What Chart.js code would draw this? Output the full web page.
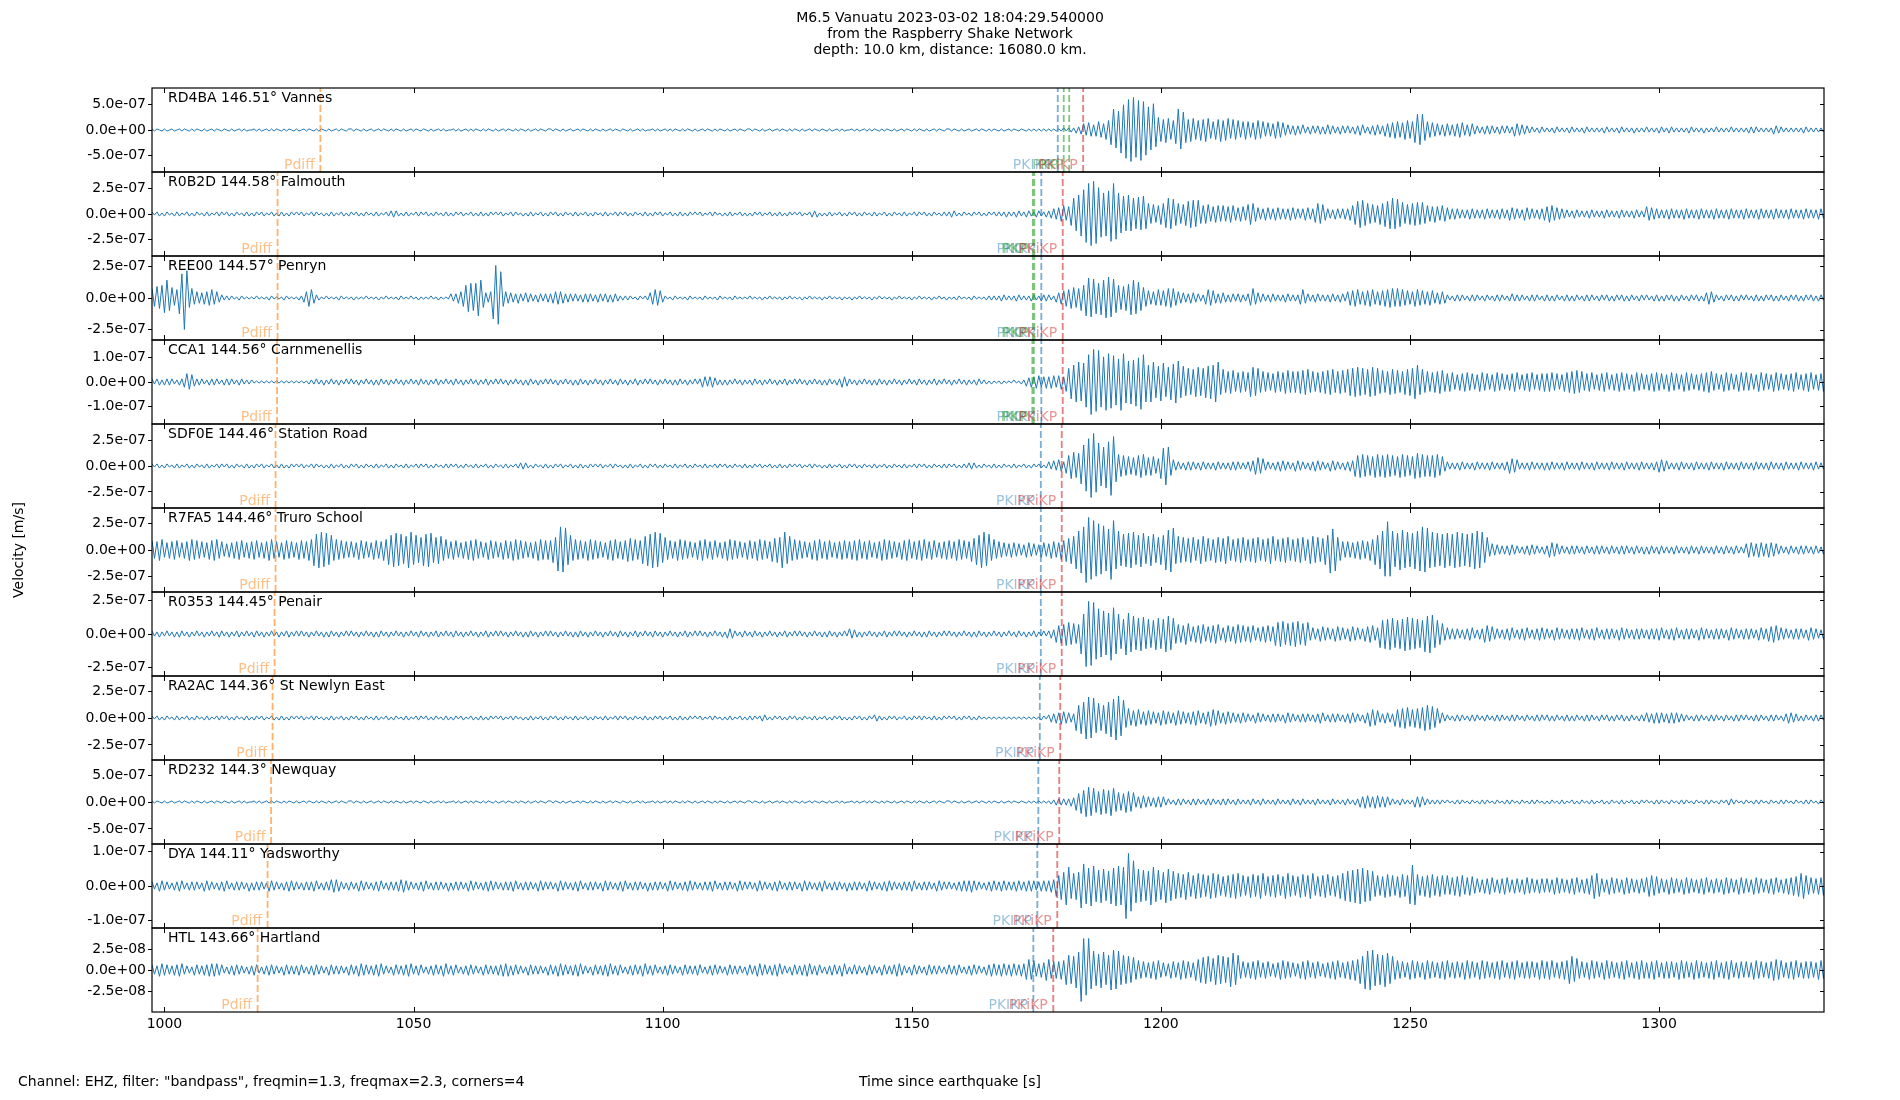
<!DOCTYPE html>
<html><head><meta charset="utf-8">
<script src="https://cdn.jsdelivr.net/npm/chart.js@4.4.0/dist/chart.umd.min.js"></script>
<style>html,body{margin:0;padding:0;background:#fff;}canvas{display:block;}</style>
</head><body>
<canvas id="c" width="1900" height="1100" style="width:1900px;height:1100px"></canvas>
<script>
const titleLines = ['M6.5 Vanuatu 2023-03-02 18:04:29.540000', 'from the Raspberry Shake Network', 'depth: 10.0 km, distance: 16080.0 km.'];
const yAxisTitle = 'Velocity [m/s]';
const xAxisTitle = 'Time since earthquake [s]';
const footnote = 'Channel: EHZ, filter: "bandpass", freqmin=1.3, freqmax=2.3, corners=4';
const stationLabels = ['RD4BA 146.51° Vannes','R0B2D 144.58° Falmouth','REE00 144.57° Penryn','CCA1 144.56° Carnmenellis','SDF0E 144.46° Station Road','R7FA5 144.46° Truro School','R0353 144.45° Penair','RA2AC 144.36° St Newlyn East','RD232 144.3° Newquay','DYA 144.11° Yadsworthy','HTL 143.66° Hartland'];
const xRange = [997.5, 1333.1];
const xTickValues = [1000, 1050, 1100, 1150, 1200, 1250, 1300];
const yLimits = [8.2e-7, 4.15e-7, 3.3e-7, 1.72e-7, 4.04e-7, 4.0e-7, 3.12e-7, 3.9e-7, 7.8e-7, 1.22e-7, 5.0e-8];
const yTickValues = [[-5e-7,0,5e-7],[-2.5e-7,0,2.5e-7],[-2.5e-7,0,2.5e-7],[-1e-7,0,1e-7],[-2.5e-7,0,2.5e-7],[-2.5e-7,0,2.5e-7],[-2.5e-7,0,2.5e-7],[-2.5e-7,0,2.5e-7],[-5e-7,0,5e-7],[-1e-7,0,1e-7],[-2.5e-8,0,2.5e-8]];
const startTime = 997.5;
const sampleStep = 0.5;
const countUnits = [2.05e-8, 1.04e-8, 8.25e-9, 4.3e-9, 1.01e-8, 1.0e-8, 7.8e-9, 9.75e-9, 1.95e-8, 3.05e-9, 1.25e-9];

const trace0 = [
1,-1,1,0,-1,1,-1,0,1,-1,0,1,-1,1,0,-1,1,-1,1,0,-1,1,-1,0,1,-1,1,0,-1,1,0,-1,1,-1,0,1,-1,1,-1,0,
0,1,-1,1,-1,0,1,-1,1,-1,1,0,-1,1,-1,1,0,-1,1,-1,0,1,-1,1,0,-1,1,-1,1,0,-1,1,-1,0,1,-1,1,0,-1,1,
1,-1,1,0,-1,1,-1,0,1,-1,0,1,-1,1,0,-1,1,-1,1,0,-1,1,-1,0,1,-1,1,0,-1,1,0,-1,1,-1,0,1,-1,1,-1,0,
0,1,-1,1,-1,0,1,-1,1,-1,1,0,-1,1,-1,1,0,-1,1,-1,0,1,-1,1,0,-1,1,-1,1,0,-1,1,-1,0,1,-1,1,0,-1,1,
1,-1,1,0,-1,1,-1,0,1,-1,0,1,-1,1,0,-1,1,-1,1,0,-1,1,-1,0,1,-1,1,0,-1,1,0,-1,1,-1,0,1,-1,1,-1,0,
0,1,-1,1,-1,0,1,-1,1,-1,1,0,-1,1,-1,1,0,-1,1,-1,0,1,-1,1,0,-1,1,-1,1,0,-1,1,-1,0,1,-1,1,0,-1,1,
1,-1,1,0,-1,1,-1,0,1,-1,0,1,-1,1,0,-1,1,-1,1,0,-1,1,-1,0,1,-1,1,0,-1,1,0,-1,1,-1,0,1,-1,1,-1,0,
0,1,-1,1,-1,0,1,-1,1,-1,1,0,-1,1,-1,1,0,-1,1,-1,0,1,-1,1,0,-1,1,-1,1,0,-1,1,-1,0,1,-1,1,0,-1,1,
1,-1,1,0,-1,1,-1,0,1,-1,0,1,-1,1,0,-1,1,-1,1,0,-1,1,-1,0,1,-1,1,0,-1,1,0,-1,1,-1,1,-1,1,-1,1,-1,
1,-1,1,-1,1,-1,2,-1,2,-2,2,-3,3,-4,6,-5,7,-6,5,-6,8,-7,6,-9,9,-14,20,-17,18,-22,24,-27,29,-30,31,-26,28,-29,27,-24,
22,-19,25,-16,12,-11,10,-12,11,-9,9,-13,20,-18,17,-12,10,-11,11,-9,9,-10,10,-11,11,-8,8,-9,10,-11,9,-10,11,-8,10,-9,9,-7,8,-9,
8,-7,7,-9,9,-8,8,-6,7,-6,6,-8,8,-7,7,-5,5,-4,4,-5,4,-4,5,-3,3,-4,4,-3,4,-4,3,-4,5,-4,4,-3,3,-4,4,-3,
4,-3,3,-4,4,-5,5,-3,3,-4,4,-5,5,-4,4,-6,6,-7,7,-8,8,-7,7,-9,9,-8,8,-12,15,-14,15,-10,8,-7,7,-6,6,-5,5,-6,
6,-5,5,-6,6,-7,7,-5,5,-6,6,-4,4,-3,3,-4,4,-4,4,-3,3,-4,4,-3,4,-3,3,-6,6,-5,5,-4,4,-3,3,-2,2,-3,3,-2,
2,-2,2,-3,3,-2,2,-2,2,-3,3,-2,2,-2,2,-3,3,-2,2,-2,2,-2,2,-3,3,-2,2,-2,2,-3,3,-2,2,-2,2,-3,2,-2,2,-2,
3,-2,2,-2,2,-3,3,-2,2,-3,3,-2,2,-2,2,-2,2,-3,3,-2,2,-2,2,-3,2,-2,2,-2,3,-2,2,-2,2,-2,3,-2,2,-2,2,-2,
2,-3,3,-3,3,-2,2,-2,2,-2,2,-4,4,-3,3,-2,2,-2,2,-2,2,-2,2,-3,3,-2,2,-2,2,-2,2,-2,2,-2];

const trace1 = [
2,-1,2,-2,1,-2,2,-1,1,-2,2,-2,1,-1,2,-2,1,-2,2,-1,1,-2,2,-2,1,-1,2,-2,2,-1,2,-2,1,-2,2,-1,1,-2,2,-2,
1,-2,2,-1,2,-2,1,-1,2,-2,1,-2,2,-2,1,-2,2,-1,2,-1,2,-2,1,-1,2,-2,2,-1,1,-2,1,-2,2,-2,1,-1,2,-2,1,-2,
2,-1,2,-2,1,-2,2,-1,1,-2,2,-2,1,-1,2,-2,3,-3,3,-2,1,-2,2,-2,1,-1,2,-2,2,-1,2,-2,1,-2,2,-1,1,-2,2,-2,
1,-2,2,-1,2,-2,1,-1,2,-2,1,-2,2,-2,1,-2,2,-1,2,-1,2,-2,1,-1,2,-2,2,-1,1,-2,1,-2,2,-2,1,-1,2,-2,1,-2,
2,-1,2,-2,1,-2,2,-1,1,-2,2,-2,1,-1,2,-2,1,-2,2,-1,1,-2,2,-2,1,-1,2,-2,2,-1,2,-2,1,-2,2,-1,1,-2,2,-2,
1,-2,2,-1,2,-2,1,-1,2,-2,1,-2,2,-2,1,-2,2,-1,2,-1,2,-2,1,-1,2,-2,2,-1,1,-2,1,-2,2,-2,1,-1,2,-2,1,-2,
1,-2,2,-1,2,-2,1,-1,2,-2,1,-2,2,-2,1,-2,2,-1,2,-1,2,-2,1,-1,2,-3,3,-3,1,-2,1,-2,2,-2,1,-1,2,-2,1,-2,
2,-1,2,-2,1,-2,2,-1,1,-2,2,-2,1,-1,2,-2,1,-2,2,-1,1,-2,2,-2,1,-1,2,-2,2,-1,2,-2,1,-2,2,-1,1,-2,2,-2,
2,-3,3,-2,1,-2,2,-1,1,-2,2,-1,2,-2,1,-2,2,-1,2,-2,2,-2,2,-3,2,-2,2,-3,3,-2,2,-3,3,-2,2,-3,3,-2,2,-3,
3,-4,5,-5,6,-7,8,-6,7,-11,15,-16,18,-21,23,-27,29,-30,31,-28,25,-22,20,-21,22,-26,29,-24,20,-18,17,-16,18,-16,15,-14,16,-15,17,-14,
10,-9,9,-8,8,-10,10,-13,15,-14,14,-11,10,-9,9,-11,12,-13,13,-12,13,-9,8,-9,9,-7,7,-8,8,-7,8,-7,7,-8,8,-6,6,-7,7,-6,
9,-10,10,-7,6,-5,5,-6,6,-5,5,-6,6,-5,5,-5,5,-6,6,-5,5,-4,5,-6,6,-5,5,-8,10,-9,9,-6,5,-4,4,-5,5,-4,5,-5,
5,-6,8,-10,12,-13,13,-11,10,-9,9,-8,8,-10,10,-12,12,-14,15,-14,14,-12,11,-9,9,-10,10,-11,11,-10,11,-9,8,-7,7,-8,7,-6,8,-7,
6,-5,5,-5,5,-4,4,-4,4,-5,5,-4,4,-4,4,-5,5,-4,4,-4,4,-5,5,-4,4,-6,6,-5,5,-4,4,-6,6,-5,5,-4,4,-5,5,-6,
7,-8,8,-6,6,-5,5,-4,4,-3,3,-4,4,-3,3,-3,3,-4,4,-3,3,-3,3,-4,4,-3,3,-3,3,-4,4,-3,3,-3,3,-4,4,-3,3,-3,
7,-6,6,-5,5,-4,4,-4,4,-5,5,-4,4,-4,4,-5,5,-4,4,-4,4,-5,5,-4,4,-4,4,-5,5,-4,4,-4,4,-5,5,-4,4,-4,4,-5,
5,-4,4,-4,4,-5,5,-4,4,-4,4,-5,5,-4,4,-4,4,-5,5,-4,4,-4,4,-5,5,-4,4,-4,4,-5,5,-4,4,-4];

const trace2 = [
9,-8,11,-10,12,-14,17,-12,10,-7,8,-15,23,-30,26,-9,9,-6,6,-5,5,-6,6,-7,8,-6,6,-4,3,-2,2,-2,2,-1,1,-2,2,-1,1,-1,
1,-1,2,-1,1,-1,1,-2,2,-1,1,-1,1,-2,2,-1,1,-1,1,-2,2,-4,6,-8,8,-5,3,-2,1,-1,2,-1,1,-1,1,-2,2,-1,1,-1,
1,-2,1,-1,1,-1,2,-1,1,-1,1,-2,1,-1,2,-1,1,-1,1,-2,2,-1,1,-1,2,-1,1,-2,1,-1,1,-1,2,-1,1,-2,1,-1,1,-1,
4,-3,4,-5,6,-8,12,-13,14,-12,14,-17,17,-9,5,-4,6,-20,31,-25,25,-8,6,-5,5,-4,4,-5,4,-3,5,-4,4,-3,3,-4,4,-3,4,-4,
4,-5,6,-6,6,-5,4,-4,4,-3,4,-3,3,-4,4,-4,4,-3,3,-4,4,-3,4,-4,3,-4,4,-3,2,-2,2,-2,2,-1,1,-2,2,-1,2,-2,
5,-6,8,-7,7,-4,2,-1,1,-2,2,-1,1,-1,1,-2,2,-1,1,-1,1,-2,2,-1,1,-1,1,-2,2,-1,1,-1,1,-2,2,-1,1,-1,1,-1,
2,-1,1,-1,1,-2,1,-1,2,-1,1,-1,1,-2,1,-1,2,-1,1,-1,1,-2,1,-1,2,-1,1,-1,1,-2,1,-1,2,-1,1,-1,1,-2,1,-1,
1,-2,1,-1,2,-1,1,-1,1,-2,1,-1,2,-1,1,-1,1,-2,1,-1,2,-1,1,-1,1,-2,1,-1,2,-1,1,-1,1,-2,1,-1,2,-1,1,-2,
1,-1,1,-2,2,-1,1,-1,1,-2,2,-1,1,-1,1,-2,2,-2,2,-2,2,-3,3,-2,2,-2,2,-3,3,-2,2,-2,2,-3,3,-2,2,-3,3,-3,
3,-2,2,-4,5,-6,7,-8,8,-10,10,-9,9,-12,12,-17,19,-18,18,-15,14,-16,17,-19,20,-18,18,-14,12,-11,11,-12,13,-16,17,-15,15,-12,10,-8,
7,-6,6,-7,8,-7,7,-8,9,-9,9,-7,6,-5,5,-4,4,-5,5,-4,4,-3,3,-6,8,-7,7,-5,4,-5,5,-4,3,-4,4,-3,4,-4,3,-3,
4,-7,9,-6,5,-4,4,-3,3,-4,4,-3,3,-3,3,-4,4,-3,3,-3,3,-6,8,-5,4,-3,3,-4,4,-3,3,-3,3,-4,4,-3,3,-4,4,-3,
6,-7,7,-8,8,-6,6,-7,7,-8,8,-6,6,-7,7,-8,8,-9,9,-8,9,-8,8,-7,7,-6,6,-8,8,-7,7,-6,6,-7,7,-5,5,-6,6,-5,
3,-2,2,-3,3,-3,3,-2,2,-3,3,-3,3,-2,2,-3,3,-2,2,-3,3,-3,3,-2,2,-3,4,-3,3,-3,3,-2,2,-3,3,-3,3,-2,2,-3,
3,-3,2,-3,3,-2,2,-3,3,-3,2,-3,3,-2,2,-3,3,-3,3,-2,2,-3,3,-2,3,-3,2,-3,3,-2,3,-3,2,-3,3,-2,2,-3,3,-2,
3,-2,2,-3,3,-3,2,-3,3,-2,3,-3,2,-3,3,-2,2,-3,3,-2,3,-3,2,-3,5,-6,6,-4,3,-2,2,-3,3,-2,3,-3,2,-3,3,-2,
3,-2,2,-3,3,-3,2,-3,3,-2,3,-3,2,-3,3,-2,2,-3,3,-2,3,-3,2,-3,3,-2,3,-3,2,-3,3,-2,2,-3];

const trace3 = [
3,-2,3,-3,2,-3,3,-3,3,-2,2,-3,3,-5,8,-7,7,-4,3,-3,3,-2,2,-3,3,-3,3,-2,2,-3,3,-3,3,-2,2,-3,3,-2,2,-2,
2,-1,1,-1,1,-1,1,-1,1,-1,1,-1,1,-1,1,-1,1,-1,1,-1,1,-1,1,-2,2,-2,3,-2,2,-3,2,-2,3,-2,2,-3,2,-2,3,-2,
3,-2,2,-3,2,-2,3,-2,2,-3,2,-3,3,-2,2,-3,2,-2,3,-2,2,-3,2,-2,3,-2,2,-3,3,-2,2,-3,2,-2,3,-3,2,-2,3,-2,
2,-3,3,-2,2,-3,2,-2,3,-2,2,-3,2,-2,3,-3,2,-2,3,-2,3,-2,2,-3,2,-2,3,-2,2,-3,2,-3,3,-2,2,-3,2,-2,3,-2,
3,-2,2,-3,2,-2,3,-2,2,-3,2,-3,3,-2,2,-3,2,-2,3,-2,2,-3,2,-2,3,-2,2,-3,3,-2,2,-3,2,-2,3,-3,2,-2,3,-2,
3,-2,2,-3,2,-2,3,-2,2,-3,2,-3,3,-2,2,-3,2,-2,3,-2,3,-5,5,-4,5,-5,4,-3,2,-3,2,-3,2,-2,3,-2,2,-3,2,-2,
2,-3,3,-2,2,-3,2,-2,3,-2,2,-3,2,-2,3,-3,2,-2,3,-2,3,-2,2,-3,2,-2,3,-2,2,-3,2,-3,3,-2,2,-3,3,-5,5,-4,
3,-2,2,-3,2,-2,3,-2,2,-3,2,-3,3,-2,2,-3,2,-2,3,-2,2,-3,2,-2,3,-2,2,-3,3,-2,2,-3,2,-2,3,-3,2,-2,3,-2,
2,-3,2,-2,3,-2,2,-3,2,-2,2,-3,3,-2,2,-2,1,-2,1,-1,1,-2,1,-1,1,-1,2,-1,1,-2,2,-4,4,-5,5,-6,6,-5,5,-6,
5,-6,6,-5,6,-7,5,-9,13,-16,16,-19,19,-18,18,-24,26,-31,31,-28,30,-24,24,-27,27,-25,25,-22,22,-27,27,-20,20,-21,21,-23,23,-26,26,-19,
16,-19,19,-15,15,-18,18,-14,14,-17,17,-20,20,-15,15,-13,13,-12,12,-14,14,-13,13,-15,15,-16,16,-19,19,-12,12,-10,10,-11,11,-9,9,-10,10,-9,
9,-14,14,-13,13,-10,10,-9,9,-8,8,-10,10,-9,9,-11,11,-10,10,-10,10,-11,11,-12,12,-10,10,-9,9,-10,10,-11,11,-12,12,-10,10,-11,11,-10,
12,-13,13,-14,14,-13,13,-12,12,-14,14,-13,13,-11,11,-10,10,-12,12,-11,11,-10,10,-12,12,-13,13,-16,16,-12,12,-10,10,-9,9,-10,10,-11,11,-9,
8,-9,9,-7,7,-8,8,-9,9,-8,8,-7,7,-9,9,-8,8,-7,7,-9,9,-8,8,-7,7,-8,8,-9,9,-7,7,-8,8,-9,9,-7,7,-8,8,-9,
8,-9,9,-8,8,-7,7,-9,9,-10,10,-11,11,-10,10,-8,8,-9,9,-7,7,-8,8,-9,9,-7,7,-8,8,-9,9,-8,8,-7,7,-9,9,-8,8,-7,
7,-8,8,-9,9,-8,8,-7,7,-9,9,-8,8,-7,7,-9,9,-8,8,-7,7,-8,8,-9,9,-10,10,-8,8,-7,7,-9,9,-8,8,-7,7,-9,9,-8,
9,-8,8,-7,7,-9,9,-8,8,-7,7,-9,9,-8,8,-7,7,-8,8,-9,9,-7,7,-8,8,-9,9,-7,7,-8,8,-9,9,-8];

const trace4 = [
2,-1,2,-2,1,-2,2,-1,1,-2,2,-2,1,-1,2,-2,1,-2,2,-1,1,-2,2,-2,1,-1,2,-2,2,-1,2,-2,1,-2,2,-1,1,-2,2,-2,
1,-2,2,-1,2,-2,1,-1,2,-2,1,-2,2,-2,1,-2,2,-1,2,-1,2,-2,1,-1,2,-2,2,-1,1,-2,1,-2,2,-2,1,-1,2,-2,1,-2,
2,-1,2,-2,1,-2,2,-1,1,-2,2,-2,1,-1,2,-2,1,-2,2,-1,1,-2,2,-2,1,-1,2,-2,2,-1,2,-2,1,-2,2,-1,1,-2,2,-2,
2,-1,2,-2,1,-2,2,-1,1,-2,2,-2,1,-1,2,-2,1,-2,2,-1,1,-2,2,-2,1,-1,2,-2,3,-3,3,-2,1,-2,2,-1,1,-2,2,-2,
1,-2,2,-1,2,-2,1,-1,2,-2,1,-2,2,-2,1,-2,2,-1,2,-1,2,-2,1,-1,2,-2,2,-1,1,-2,1,-2,2,-2,1,-1,2,-2,1,-2,
2,-1,2,-2,1,-2,2,-1,1,-2,2,-2,1,-1,2,-2,1,-2,2,-1,1,-2,2,-2,1,-1,2,-2,2,-1,2,-2,1,-2,2,-1,1,-2,2,-2,
1,-2,2,-1,2,-2,1,-1,2,-2,1,-2,2,-2,1,-2,2,-1,2,-1,2,-2,1,-1,2,-2,2,-1,1,-2,1,-2,2,-2,1,-1,2,-2,1,-2,
2,-1,2,-2,1,-2,2,-1,1,-2,2,-2,1,-1,2,-2,1,-2,2,-1,1,-2,2,-2,1,-1,2,-2,2,-1,2,-2,1,-2,2,-1,1,-2,2,-2,
2,-1,2,-2,1,-2,2,-2,3,-3,3,-2,1,-2,2,-1,1,-2,2,-2,1,-2,2,-1,1,-2,2,-2,1,-1,2,-2,1,-2,2,-1,2,-2,1,-2,
4,-3,5,-4,6,-5,4,-7,10,-12,13,-11,12,-17,20,-24,26,-30,31,-25,22,-19,18,-21,23,-28,28,-15,11,-10,10,-9,9,-8,8,-9,10,-11,11,-9,
8,-9,9,-7,7,-12,17,-18,18,-9,6,-4,4,-3,3,-4,4,-4,4,-3,3,-4,4,-3,3,-3,3,-4,4,-3,3,-3,3,-4,4,-4,4,-3,3,-3,
4,-5,5,-8,8,-7,7,-4,4,-3,3,-4,4,-5,5,-4,4,-3,3,-5,5,-4,4,-3,3,-4,4,-5,5,-4,4,-3,3,-5,5,-4,4,-3,3,-4,
4,-5,5,-10,10,-11,11,-10,10,-9,9,-11,11,-10,10,-11,11,-10,10,-9,9,-11,11,-10,10,-9,9,-12,12,-11,11,-10,10,-10,10,-11,11,-9,9,-5,
4,-3,3,-3,3,-4,4,-3,3,-3,3,-4,4,-3,3,-3,3,-4,4,-3,3,-3,3,-4,4,-7,7,-6,6,-3,3,-3,3,-4,4,-3,3,-3,3,-4,
3,-4,4,-3,3,-3,3,-4,4,-3,3,-3,3,-4,4,-3,3,-3,3,-4,4,-3,3,-3,3,-4,4,-3,3,-3,3,-4,4,-3,3,-3,3,-4,4,-3,
3,-3,3,-4,4,-6,6,-5,5,-3,3,-3,3,-4,4,-3,3,-3,3,-4,4,-3,3,-3,3,-4,4,-3,3,-3,3,-4,4,-3,3,-3,3,-4,4,-3,
3,-3,3,-4,4,-3,3,-3,3,-4,4,-3,3,-3,3,-4,4,-3,3,-3,3,-4,4,-3,3,-3,3,-4,4,-3,3,-3,3,-4];

const trace5 = [
9,-8,8,-10,10,-7,7,-8,8,-9,9,-7,7,-8,8,-10,10,-9,9,-8,8,-7,7,-9,9,-10,10,-8,8,-6,6,-7,7,-8,8,-9,9,-7,7,-8,
8,-9,9,-7,7,-8,8,-10,10,-8,8,-7,7,-9,9,-8,8,-7,7,-9,9,-8,8,-10,10,-15,15,-17,17,-16,16,-14,14,-10,10,-9,9,-8,8,-7,
8,-7,7,-9,9,-8,8,-7,7,-9,9,-8,8,-10,10,-14,14,-16,16,-15,15,-13,13,-17,17,-14,14,-12,12,-15,15,-16,16,-12,12,-13,13,-10,10,-8,
8,-9,9,-7,7,-8,8,-9,9,-10,10,-8,8,-7,7,-9,9,-8,8,-7,7,-9,9,-8,8,-10,10,-9,9,-8,8,-7,7,-8,8,-10,10,-9,9,-9,
9,-12,12,-20,22,-21,21,-14,14,-10,10,-9,9,-8,8,-10,10,-9,9,-8,8,-7,7,-9,9,-10,10,-8,8,-9,9,-11,11,-10,10,-9,9,-13,13,-15,
15,-17,17,-16,16,-12,12,-9,9,-8,8,-10,10,-9,9,-8,8,-7,7,-9,9,-10,10,-8,8,-9,9,-7,7,-8,8,-10,10,-9,9,-8,8,-7,7,-9,
9,-8,8,-10,10,-9,9,-8,8,-11,11,-12,12,-17,17,-13,13,-10,10,-9,9,-8,8,-7,7,-9,9,-10,10,-8,8,-9,9,-7,7,-8,8,-9,9,-8,
8,-9,9,-10,10,-8,8,-9,9,-7,7,-8,8,-10,10,-9,9,-8,8,-7,7,-9,9,-10,10,-8,8,-9,9,-10,10,-8,8,-9,9,-7,7,-8,8,-9,
9,-8,8,-10,10,-9,9,-8,8,-11,11,-14,14,-17,17,-15,15,-10,10,-8,8,-7,7,-6,6,-7,7,-6,6,-5,5,-7,7,-6,6,-5,5,-7,7,-6,
6,-8,8,-7,7,-9,9,-11,11,-13,13,-18,18,-22,22,-31,31,-28,28,-25,25,-23,23,-20,20,-28,28,-18,18,-15,15,-16,16,-17,17,-14,14,-16,16,-13,
13,-15,15,-12,12,-14,14,-19,19,-21,21,-13,13,-12,12,-11,11,-12,12,-10,10,-13,13,-11,11,-10,10,-12,12,-11,11,-13,13,-10,10,-11,11,-12,12,-10,
10,-11,11,-12,12,-10,10,-11,11,-13,13,-10,10,-11,11,-12,12,-10,10,-11,11,-12,12,-10,10,-13,13,-12,12,-11,11,-14,14,-22,20,-20,12,-10,8,-7,
8,-7,7,-8,8,-9,9,-8,8,-10,10,-14,14,-18,18,-25,27,-25,18,-16,16,-19,19,-17,17,-16,16,-18,18,-20,22,-21,21,-17,17,-16,16,-15,15,-17,
16,-15,15,-17,17,-16,16,-15,15,-16,16,-18,18,-17,17,-12,12,-6,6,-5,5,-4,4,-4,4,-5,5,-4,4,-3,3,-4,4,-5,5,-4,4,-3,3,-4,
4,-7,7,-6,6,-4,4,-3,3,-4,4,-4,4,-3,3,-4,4,-3,3,-4,4,-4,4,-3,3,-4,4,-3,3,-4,4,-4,4,-3,3,-4,4,-3,3,-4,
3,-4,4,-3,3,-4,4,-3,3,-3,3,-4,4,-3,3,-3,3,-4,4,-3,3,-4,4,-3,3,-3,3,-4,4,-3,3,-4,4,-3,3,-4,4,-3,3,-3,
6,-7,7,-6,6,-7,7,-6,6,-7,7,-6,6,-4,4,-3,3,-4,4,-3,3,-4,4,-4,4,-3,3,-4,4,-3,3,-4,4,-3];

const trace6 = [
3,-2,2,-3,2,-2,3,-2,2,-3,2,-3,3,-2,2,-3,2,-2,3,-2,2,-3,2,-2,3,-2,2,-3,3,-2,2,-3,2,-2,3,-3,2,-2,3,-2,
2,-3,3,-2,2,-3,2,-2,3,-2,2,-3,2,-2,3,-3,2,-2,3,-2,3,-2,2,-3,2,-2,3,-2,2,-3,2,-3,3,-2,2,-3,2,-2,3,-2,
3,-2,2,-3,2,-2,3,-2,2,-3,2,-3,3,-2,2,-3,2,-2,3,-2,2,-3,2,-2,3,-2,2,-3,3,-2,2,-3,2,-2,3,-3,2,-2,3,-2,
2,-3,3,-2,2,-3,2,-2,3,-2,2,-3,2,-2,3,-3,2,-2,3,-2,3,-2,2,-3,2,-2,3,-2,2,-3,2,-3,3,-2,2,-3,2,-2,3,-2,
3,-2,2,-3,2,-2,3,-2,2,-3,2,-3,3,-2,2,-3,2,-2,3,-2,2,-3,2,-2,3,-2,2,-3,3,-2,2,-3,2,-2,3,-3,2,-2,3,-2,
2,-3,3,-2,2,-3,2,-2,3,-2,2,-3,2,-2,3,-3,2,-2,3,-2,3,-2,2,-3,2,-2,3,-2,2,-3,2,-4,5,-4,3,-2,2,-3,3,-2,
2,-3,3,-2,2,-3,2,-2,3,-2,2,-3,2,-2,3,-3,2,-2,3,-2,3,-2,2,-3,2,-2,3,-2,2,-3,2,-3,3,-2,2,-3,2,-2,3,-2,
5,-4,4,-3,2,-3,2,-2,3,-2,2,-3,2,-2,3,-3,2,-2,3,-2,3,-2,2,-3,2,-2,3,-2,2,-3,2,-3,3,-2,2,-3,2,-2,3,-2,
3,-2,2,-3,2,-2,3,-2,2,-3,2,-3,3,-2,2,-3,2,-2,3,-2,2,-3,2,-2,3,-2,2,-3,3,-2,2,-3,2,-2,3,-3,2,-2,3,-2,
3,-4,4,-8,8,-9,9,-11,11,-10,10,-9,9,-19,19,-31,31,-30,30,-24,24,-22,22,-20,20,-25,25,-19,19,-14,14,-20,20,-17,17,-15,15,-16,16,-14,
14,-13,13,-15,15,-14,14,-17,17,-15,15,-9,9,-8,8,-10,10,-7,7,-8,8,-9,9,-7,7,-8,8,-9,9,-6,6,-8,8,-7,7,-9,9,-8,8,-7,
7,-8,8,-6,6,-7,7,-8,8,-7,7,-11,11,-12,12,-10,10,-11,11,-12,12,-10,10,-11,11,-6,6,-5,5,-7,7,-6,6,-5,5,-7,7,-6,6,-5,
5,-7,7,-6,6,-5,5,-7,7,-8,8,-6,6,-13,13,-14,14,-15,15,-13,13,-14,14,-16,16,-15,15,-14,14,-13,13,-17,17,-18,18,-13,13,-10,10,-6,
6,-5,5,-5,5,-4,4,-5,5,-6,6,-4,4,-5,5,-8,8,-7,7,-5,5,-4,4,-5,5,-6,6,-4,4,-5,5,-6,6,-4,4,-5,5,-6,6,-5,
5,-4,4,-6,6,-5,5,-4,4,-5,5,-5,5,-6,6,-4,4,-5,5,-6,6,-4,4,-5,5,-5,5,-4,4,-6,6,-5,5,-4,4,-5,5,-5,5,-4,
4,-5,5,-5,5,-6,6,-4,4,-5,5,-6,6,-4,4,-5,5,-5,5,-4,4,-6,6,-5,5,-4,4,-5,5,-5,5,-4,4,-6,6,-5,5,-4,4,-5,
5,-5,5,-4,4,-6,6,-5,5,-7,7,-8,8,-6,6,-5,5,-4,4,-5,5,-5,5,-4,4,-6,6,-5,5,-4,4,-5,5,-4];

const trace7 = [
2,-1,2,-2,1,-2,2,-1,1,-2,2,-2,1,-1,2,-2,1,-2,2,-1,1,-2,2,-2,1,-1,2,-2,2,-1,2,-2,1,-2,2,-1,1,-2,2,-2,
1,-2,2,-1,2,-2,1,-1,2,-2,1,-2,2,-2,1,-2,2,-1,2,-1,2,-2,1,-1,2,-2,2,-1,1,-2,1,-2,2,-2,1,-1,2,-2,1,-2,
2,-1,2,-2,1,-2,2,-1,1,-2,2,-2,1,-1,2,-2,1,-2,2,-1,1,-2,2,-2,1,-1,2,-2,2,-1,2,-2,1,-2,2,-1,1,-2,2,-2,
1,-2,2,-1,2,-2,1,-1,2,-2,1,-2,2,-2,1,-2,2,-1,2,-1,2,-2,1,-1,2,-2,2,-1,1,-2,1,-2,2,-2,1,-1,2,-2,1,-2,
2,-1,2,-2,1,-2,2,-1,1,-2,2,-2,1,-1,2,-2,1,-2,2,-1,1,-2,2,-2,1,-1,2,-2,2,-1,2,-2,1,-2,2,-1,1,-2,2,-2,
1,-2,2,-1,2,-2,1,-1,2,-2,1,-2,2,-2,1,-2,2,-1,2,-1,2,-2,1,-1,2,-2,2,-1,1,-2,1,-2,2,-2,1,-1,2,-2,1,-2,
2,-2,2,-1,2,-3,3,-2,1,-2,2,-1,2,-2,1,-2,2,-1,2,-2,1,-2,2,-1,1,-2,2,-2,1,-1,2,-2,1,-2,2,-1,2,-2,1,-2,
1,-2,2,-1,2,-2,1,-2,2,-1,3,-3,2,-2,1,-2,2,-1,2,-2,1,-1,2,-2,1,-2,2,-1,2,-2,2,-1,1,-2,2,-2,1,-2,2,-1,
2,-1,2,-2,1,-2,2,-1,2,-2,1,-2,2,-1,1,-1,1,-1,1,-1,1,-1,1,-1,1,-1,1,-1,1,-1,1,-1,1,-1,1,-1,1,-2,2,-1,
3,-4,4,-5,5,-6,6,-5,5,-4,4,-12,12,-15,15,-20,20,-19,19,-14,14,-12,12,-15,15,-18,18,-21,21,-17,17,-9,9,-7,7,-8,8,-6,6,-7,
7,-6,6,-5,5,-7,7,-6,6,-5,5,-7,7,-6,6,-5,5,-6,6,-7,7,-5,5,-6,6,-8,8,-7,7,-5,5,-6,6,-5,5,-4,4,-5,5,-4,
4,-3,3,-5,5,-4,4,-3,3,-4,4,-4,4,-3,3,-5,5,-4,4,-3,3,-4,4,-4,4,-3,3,-4,4,-5,5,-3,3,-4,4,-4,4,-3,3,-4,
4,-5,5,-4,4,-3,3,-5,5,-8,8,-7,7,-4,4,-5,5,-4,4,-8,8,-9,9,-10,10,-8,8,-9,9,-10,10,-12,12,-11,11,-9,9,-5,5,-3,
3,-2,2,-3,3,-3,3,-2,2,-3,3,-3,3,-2,2,-3,3,-2,2,-3,3,-3,3,-2,2,-3,3,-3,3,-2,2,-3,3,-2,2,-3,3,-3,3,-2,
3,-3,2,-3,3,-2,2,-3,3,-3,2,-3,3,-2,2,-3,3,-3,3,-2,2,-3,3,-2,3,-3,2,-3,3,-2,3,-3,2,-3,3,-2,2,-3,3,-3,
5,-4,4,-5,5,-5,5,-4,4,-5,5,-5,5,-4,4,-3,3,-2,2,-3,3,-3,3,-2,2,-3,3,-3,3,-2,2,-3,3,-2,2,-3,3,-3,3,-2,
3,-2,2,-3,3,-3,3,-2,2,-3,3,-3,3,-2,2,-3,4,-5,5,-4,4,-3,2,-3,3,-2,2,-3,3,-3,3,-2,2,-3];

const trace8 = [
1,-1,1,0,-1,1,-1,0,1,-1,0,1,-1,1,0,-1,1,-1,1,0,-1,1,-1,0,1,-1,1,0,-1,1,0,-1,1,-1,0,1,-1,1,-1,0,
0,1,-1,1,-1,0,1,-1,1,-1,1,0,-1,1,-1,1,0,-1,1,-1,0,1,-1,1,0,-1,1,-1,1,0,-1,1,-1,0,1,-1,1,0,-1,1,
1,-1,1,0,-1,1,-1,0,1,-1,0,1,-1,1,0,-1,1,-1,1,0,-1,1,-1,0,1,-1,1,0,-1,1,0,-1,1,-1,0,1,-1,1,-1,0,
0,1,-1,1,-1,0,1,-1,1,-1,1,0,-1,1,-1,1,0,-1,1,-1,0,1,-1,1,0,-1,1,-1,1,0,-1,1,-1,0,1,-1,1,0,-1,1,
1,-1,1,0,-1,1,-1,0,1,-1,0,1,-1,1,0,-1,1,-1,1,0,-1,1,-1,0,1,-1,1,0,-1,1,0,-1,1,-1,0,1,-1,1,-1,0,
0,1,-1,1,-1,0,1,-1,1,-1,1,0,-1,1,-1,1,0,-1,1,-1,0,1,-1,1,0,-1,1,-1,1,0,-1,1,-1,0,1,-1,1,0,-1,1,
1,-1,1,0,-1,1,-1,0,1,-1,0,1,-1,1,0,-1,1,-1,1,0,-1,1,-1,0,1,-1,1,0,-1,1,0,-1,1,-1,0,1,-1,1,-1,0,
0,1,-1,1,-1,0,1,-1,1,-1,1,0,-1,1,-1,1,0,-1,1,-1,0,1,-1,1,0,-1,1,-1,1,0,-1,1,-1,0,1,-1,1,0,-1,1,
1,-1,1,0,-1,1,-1,0,1,-1,0,1,-1,1,0,-1,1,-1,1,0,-1,1,-1,0,1,-1,1,0,-1,1,0,-1,1,-1,1,-1,1,-1,1,-1,
1,-2,2,-3,3,-3,3,-3,3,-4,4,-8,8,-11,11,-14,14,-13,13,-10,10,-12,12,-11,11,-13,13,-9,9,-8,8,-10,10,-9,9,-5,5,-6,6,-5,
5,-4,4,-5,5,-5,5,-3,3,-2,2,-3,3,-3,3,-2,2,-3,3,-3,3,-2,2,-3,3,-3,3,-2,2,-3,3,-3,3,-2,2,-3,3,-2,2,-2,
2,-3,3,-2,2,-3,3,-2,2,-2,2,-3,3,-2,2,-2,2,-3,3,-2,2,-3,3,-2,2,-2,2,-3,3,-2,2,-2,2,-3,3,-2,2,-2,2,-3,
3,-2,2,-3,3,-5,5,-6,6,-5,5,-6,6,-5,5,-5,5,-3,3,-2,2,-3,3,-2,2,-2,2,-5,5,-5,5,-3,3,-2,2,-2,2,-2,2,-1,
2,-1,1,-2,2,-2,2,-1,1,-2,2,-1,1,-2,2,-2,2,-1,1,-2,2,-1,1,-2,2,-2,2,-1,1,-2,2,-1,1,-2,2,-2,2,-1,1,-2,
1,-2,2,-1,1,-2,2,-2,1,-1,2,-2,1,-2,2,-1,1,-2,2,-2,1,-1,2,-2,1,-2,2,-1,1,-2,2,-2,1,-1,2,-2,1,-2,2,-1,
2,-1,1,-2,2,-2,2,-1,1,-2,2,-1,1,-2,2,-2,2,-1,1,-2,2,-1,1,-2,2,-2,2,-1,1,-2,2,-1,2,-3,3,-2,2,-1,1,-2,
2,-1,1,-2,2,-2,2,-1,1,-2,2,-1,1,-2,2,-2,2,-1,1,-2,2,-1,1,-2,2,-2,2,-1,1,-2,2,-1,1,-2];

const trace9 = [
4,-3,3,-5,5,-4,4,-3,3,-4,4,-5,5,-3,3,-4,4,-4,4,-3,3,-5,5,-4,4,-3,3,-4,4,-5,5,-3,3,-4,4,-4,4,-3,3,-5,
3,-4,4,-4,4,-3,3,-5,5,-4,4,-3,3,-4,4,-5,5,-4,4,-3,3,-4,4,-4,4,-5,5,-3,3,-4,4,-4,6,-6,6,-5,4,-3,3,-4,
4,-3,3,-5,5,-4,4,-3,3,-4,4,-5,5,-3,3,-4,4,-4,4,-5,6,-6,5,-4,4,-3,3,-4,4,-5,5,-3,3,-4,4,-4,4,-3,3,-5,
3,-4,4,-4,4,-3,3,-5,5,-4,4,-3,3,-4,4,-5,5,-4,4,-3,3,-4,4,-4,4,-5,5,-3,3,-4,4,-4,4,-3,3,-5,5,-4,4,-3,
4,-3,3,-5,5,-4,4,-3,3,-4,4,-5,5,-3,3,-4,4,-4,4,-3,3,-5,5,-4,4,-3,3,-4,4,-5,5,-3,3,-4,4,-4,4,-3,3,-5,
3,-4,4,-4,4,-3,3,-5,5,-4,4,-3,3,-4,4,-5,5,-4,4,-3,3,-4,4,-4,4,-5,5,-3,3,-4,4,-4,4,-3,3,-5,5,-4,4,-3,
4,-3,3,-5,5,-4,4,-3,3,-4,4,-5,5,-3,3,-4,4,-4,4,-3,3,-5,5,-4,4,-3,3,-4,4,-5,5,-3,3,-4,4,-4,4,-3,3,-5,
3,-4,4,-4,4,-3,3,-5,5,-4,4,-3,3,-4,4,-5,5,-4,4,-3,3,-4,4,-4,4,-5,5,-3,3,-4,4,-4,4,-3,3,-5,5,-4,4,-3,
4,-3,3,-4,4,-5,5,-5,5,-6,5,-4,4,-3,3,-4,4,-5,5,-4,4,-5,5,-4,4,-4,4,-5,5,-4,4,-5,5,-5,5,-4,4,-5,5,-5,
5,-6,6,-10,10,-13,13,-18,18,-12,12,-13,13,-21,21,-17,17,-19,19,-15,15,-16,16,-14,14,-17,17,-19,19,-18,18,-31,31,-24,24,-16,16,-15,15,-14,
14,-18,18,-15,15,-13,13,-16,16,-14,14,-12,12,-11,11,-13,13,-10,10,-12,12,-11,11,-10,10,-12,12,-11,11,-9,9,-10,10,-11,11,-12,12,-10,10,-9,
9,-11,11,-10,10,-12,12,-9,9,-10,10,-11,11,-9,9,-12,12,-10,10,-9,9,-11,11,-10,10,-12,12,-9,9,-10,10,-11,11,-9,9,-10,10,-12,12,-14,
14,-15,15,-16,16,-17,17,-15,15,-14,14,-10,10,-9,9,-11,11,-10,10,-9,9,-11,11,-10,10,-17,20,-18,11,-9,9,-10,10,-11,11,-9,9,-10,10,-8,
10,-8,8,-9,9,-10,10,-8,8,-9,9,-7,7,-6,6,-7,7,-8,8,-6,6,-7,7,-8,8,-6,6,-7,7,-6,6,-8,8,-7,7,-6,6,-7,7,-6,
7,-6,6,-8,8,-7,7,-6,6,-7,7,-8,8,-6,6,-7,7,-8,10,-12,12,-10,7,-6,6,-8,8,-7,7,-6,6,-8,8,-7,7,-6,6,-7,7,-6,
8,-10,10,-9,9,-7,7,-6,6,-8,8,-7,7,-6,6,-8,8,-7,7,-6,6,-7,7,-8,8,-6,6,-7,7,-6,6,-8,8,-7,7,-6,6,-8,8,-7,
7,-6,6,-8,8,-7,7,-6,6,-7,7,-8,8,-6,6,-7,7,-8,8,-9,9,-10,12,-12,10,-8,8,-7,7,-8,8,-9,9,-7];

const trace10 = [
5,-4,4,-6,6,-5,5,-4,4,-5,5,-6,6,-4,4,-3,3,-5,5,-4,4,-5,5,-6,6,-6,6,-5,5,-3,3,-4,4,-5,5,-4,4,-3,3,-4,
4,-5,5,-3,3,-4,4,-5,5,-4,4,-3,3,-5,5,-4,4,-4,4,-5,5,-3,3,-4,4,-5,5,-4,4,-3,3,-5,5,-4,4,-4,4,-3,3,-5,
5,-4,4,-6,6,-5,5,-4,4,-5,5,-6,6,-4,4,-3,3,-5,5,-4,4,-5,5,-6,6,-4,4,-5,5,-3,3,-4,4,-5,5,-4,4,-6,6,-4,
4,-5,5,-3,3,-4,4,-5,5,-4,4,-3,3,-5,5,-4,4,-4,4,-5,5,-6,6,-6,4,-5,5,-4,4,-3,3,-5,5,-4,4,-4,4,-3,3,-5,
5,-4,4,-6,6,-5,5,-4,4,-5,5,-6,6,-4,4,-3,3,-5,5,-4,4,-5,5,-6,6,-4,4,-5,5,-3,3,-4,4,-5,5,-4,4,-6,6,-4,
4,-5,5,-3,3,-4,4,-5,5,-4,4,-3,3,-5,5,-4,4,-4,4,-5,5,-3,3,-4,4,-5,5,-4,4,-3,3,-5,5,-4,4,-4,4,-3,3,-5,
5,-4,4,-6,6,-5,5,-4,4,-5,5,-6,6,-4,4,-3,3,-5,5,-4,4,-5,5,-6,6,-4,4,-5,5,-3,3,-4,4,-5,5,-4,4,-6,6,-4,
3,-4,5,-4,4,-3,3,-5,5,-4,4,-3,3,-5,5,-4,4,-4,5,-6,6,-5,4,-3,3,-5,5,-4,4,-3,3,-5,5,-4,4,-4,4,-3,3,-4,
5,-4,4,-5,5,-3,3,-4,4,-5,5,-4,4,-3,3,-5,5,-6,6,-5,5,-6,6,-5,5,-6,6,-5,5,-6,6,-9,10,-9,9,-6,6,-7,7,-10,
10,-8,8,-8,8,-9,9,-14,14,-13,13,-17,17,-30,30,-24,30,-18,18,-15,15,-17,17,-14,14,-19,19,-18,18,-14,14,-13,13,-12,12,-9,9,-8,8,-7,
7,-8,8,-9,9,-7,7,-6,6,-8,8,-7,7,-9,9,-8,8,-7,7,-10,10,-12,12,-13,13,-11,11,-14,14,-13,13,-12,12,-16,16,-14,14,-8,8,-7,
7,-8,8,-9,9,-7,7,-8,8,-6,6,-7,7,-9,9,-8,8,-7,7,-6,6,-8,8,-9,9,-7,7,-8,8,-6,6,-7,7,-8,8,-9,9,-7,7,-8,
8,-9,9,-10,10,-13,13,-18,18,-19,19,-15,15,-14,14,-16,16,-13,13,-9,9,-8,8,-7,7,-9,9,-8,8,-7,7,-9,9,-8,8,-7,7,-8,8,-9,
9,-7,7,-8,8,-7,7,-9,9,-8,8,-7,7,-9,9,-8,8,-7,7,-8,8,-9,9,-7,7,-8,8,-9,9,-7,7,-8,8,-8,8,-7,7,-9,9,-8,
8,-9,9,-7,7,-8,8,-9,9,-13,13,-11,11,-8,8,-7,7,-9,9,-8,8,-7,7,-9,9,-8,8,-7,7,-8,8,-9,9,-7,7,-8,8,-9,9,-8,
7,-8,8,-9,9,-7,7,-8,8,-8,8,-7,7,-9,9,-8,8,-7,7,-9,9,-8,8,-7,7,-8,8,-9,9,-7,7,-8,8,-9,9,-7,7,-8,8,-7,
8,-7,7,-9,9,-8,8,-7,7,-8,8,-10,10,-9,9,-7,7,-8,8,-9,9,-7,7,-8,8,-8,8,-7,7,-9,9,-8,8,-7];

const pdiffTimes = [1031.3, 1022.7, 1022.7, 1022.6, 1022.3, 1022.3, 1022.1, 1021.7, 1021.4, 1020.7, 1018.7];
const pkikpTimes = [1179.3, 1176.0, 1176.0, 1176.0, 1175.9, 1175.9, 1175.9, 1175.7, 1175.4, 1175.2, 1174.4];
const pkiKpTimes = [1184.4, 1180.3, 1180.3, 1180.3, 1180.1, 1180.1, 1180.1, 1179.8, 1179.6, 1179.2, 1178.4];
const pkpTimes = [[1180.5, 1181.6], [1174.3, 1174.6], [1174.3, 1174.6], [1174.2, 1174.5], [], [], [], [], [], [], []];
const phaseStyles = {
  Pdiff: {line: 'rgba(255,127,14,0.6)', text: 'rgba(255,127,14,0.5)'},
  PKIKP: {line: 'rgba(31,119,180,0.6)', text: 'rgba(31,119,180,0.45)'},
  PKiKP: {line: 'rgba(214,39,40,0.6)', text: 'rgba(214,39,40,0.5)'},
  PKP:   {line: 'rgba(44,160,44,0.6)', text: 'rgba(44,160,44,0.5)'}
};

const traces = [trace0, trace1, trace2, trace3, trace4, trace5, trace6, trace7, trace8, trace9, trace10];
const FONT = "14px 'DejaVu Sans'";
const nPanels = traces.length;

function fmtExp(v) {
  const s = Number(v).toExponential(1);
  const parts = s.split('e');
  const e = parseInt(parts[1], 10);
  return parts[0] + 'e' + (e < 0 ? '-' : '+') + String(Math.abs(e)).padStart(2, '0');
}

const phases = [];
for (let k = 0; k < nPanels; k++) {
  phases.push({panel: k, name: 'Pdiff', t: pdiffTimes[k]});
  pkpTimes[k].forEach(t => phases.push({panel: k, name: 'PKP', t}));
  phases.push({panel: k, name: 'PKIKP', t: pkikpTimes[k]});
  phases.push({panel: k, name: 'PKiKP', t: pkiKpTimes[k]});
}

const datasets = [];
traces.forEach((arr, k) => {
  datasets.push({
    data: arr.map((v, i) => ({x: startTime + i * sampleStep, y: v * countUnits[k]})),
    yAxisID: 'y' + k,
    borderColor: '#1f77b4',
    borderWidth: 1,
    pointRadius: 0,
    tension: 0,
    order: 2
  });
});
phases.forEach(p => {
  datasets.push({
    data: [{x: p.t, y: -yLimits[p.panel]}, {x: p.t, y: yLimits[p.panel]}],
    yAxisID: 'y' + p.panel,
    borderColor: phaseStyles[p.name].line,
    borderWidth: 1.8,
    borderDash: [7, 3],
    pointRadius: 0,
    order: 1
  });
});

const scales = {
  x: {
    type: 'linear', position: 'bottom', min: xRange[0], max: xRange[1],
    grid: {display: false, drawTicks: false},
    border: {display: false},
    ticks: {font: {family: 'DejaVu Sans', size: 14}, color: '#000', padding: 4, maxRotation: 0, autoSkip: false,
            callback: v => String(v)},
    afterBuildTicks: s => { s.ticks = xTickValues.map(v => ({value: v})); },
    afterFit: s => { s.height = 30; }
  }
};
// stacked scales are laid out bottom-up, so register the lowest panel first
for (let k = nPanels - 1; k >= 0; k--) {
  scales['y' + k] = {
    type: 'linear', position: 'left', stack: 'traces', stackWeight: 1,
    min: -yLimits[k], max: yLimits[k], offset: false,
    border: {display: false},
    grid: {display: true, drawOnChartArea: false, drawTicks: true, tickLength: 4, color: '#000', lineWidth: 1},
    ticks: {font: {family: 'DejaVu Sans', size: 14}, color: '#000', padding: 2, callback: v => fmtExp(v)},
    afterBuildTicks: s => { s.ticks = yTickValues[k].map(v => ({value: v})); },
    afterFit: s => { s.width = 152; }
  };
}

const decor = {
  id: 'decor',
  afterDraw(chart) {
    const ctx = chart.ctx;
    const ca = chart.chartArea;
    const xs = chart.scales.x;
    ctx.save();
    ctx.strokeStyle = '#000';
    for (let k = 0; k < nPanels; k++) {
      const s = chart.scales['y' + k];
      const top = s.top, bot = s.bottom;
      ctx.lineWidth = 1.2;
      ctx.strokeRect(ca.left, top, ca.right - ca.left, bot - top);
      ctx.beginPath();
      xTickValues.forEach(v => {
        const px = Math.round(xs.getPixelForValue(v)) + 0.5;
        ctx.moveTo(px, top); ctx.lineTo(px, top + 5);
        ctx.moveTo(px, bot - 5); ctx.lineTo(px, bot);
      });
      yTickValues[k].forEach(v => {
        const py = Math.round(s.getPixelForValue(v)) + 0.5;
        ctx.moveTo(ca.right - 4, py); ctx.lineTo(ca.right, py);
      });
      ctx.lineWidth = 1;
      ctx.stroke();
      ctx.font = FONT;
      ctx.fillStyle = '#000';
      ctx.textAlign = 'left';
      ctx.textBaseline = 'alphabetic';
      ctx.fillText(stationLabels[k], ca.left + 16, top + 14);
    }
    ctx.font = FONT;
    ctx.textAlign = 'right';
    ctx.textBaseline = 'alphabetic';
    phases.forEach(p => {
      const s = chart.scales['y' + p.panel];
      ctx.fillStyle = phaseStyles[p.name].text;
      ctx.fillText(p.name, xs.getPixelForValue(p.t) - 5.5, s.bottom - 3.3);
    });
    ctx.fillStyle = '#000';
    ctx.textAlign = 'center';
    titleLines.forEach((t, i) => ctx.fillText(t, 950, 22 + 16 * i));
    ctx.fillText(xAxisTitle, 950, 1086);
    ctx.textAlign = 'left';
    ctx.fillText(footnote, 18, 1086);
    ctx.save();
    ctx.translate(19, 550);
    ctx.rotate(-Math.PI / 2);
    ctx.textAlign = 'center';
    ctx.textBaseline = 'middle';
    ctx.fillText(yAxisTitle, 0, 0);
    ctx.restore();
    ctx.restore();
  }
};

new Chart(document.getElementById('c'), {
  type: 'line',
  data: {datasets},
  options: {
    responsive: false,
    devicePixelRatio: 1,
    animation: false,
    parsing: false,
    normalized: true,
    layout: {padding: {left: 0, right: 76, top: 88, bottom: 58}},
    plugins: {legend: {display: false}, tooltip: {enabled: false}, title: {display: false}},
    scales
  },
  plugins: [decor]
});
</script>
</body></html>
